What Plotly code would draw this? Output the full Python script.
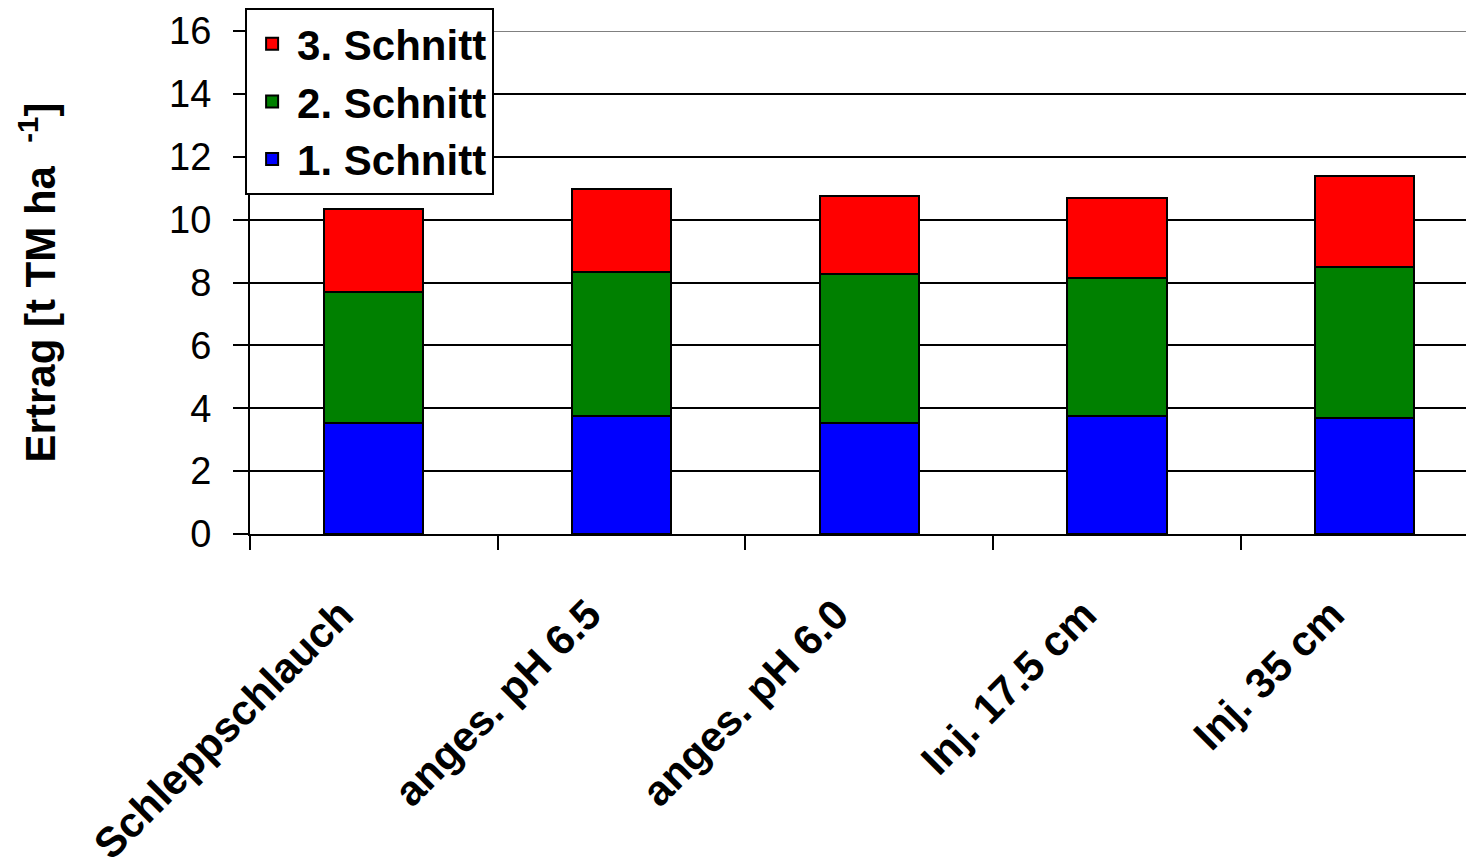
import plotly.graph_objects as go

categories = ["Schleppschlauch", "anges. pH 6.5", "anges. pH 6.0", "Inj. 17.5 cm", "Inj. 35 cm"]
schnitt1 = [3.54, 3.75, 3.54, 3.75, 3.68]
schnitt2 = [4.17, 4.59, 4.73, 4.38, 4.80]
schnitt3 = [2.62, 2.62, 2.49, 2.56, 2.92]
series_names = ["1. Schnitt", "2. Schnitt", "3. Schnitt"]
series_colors = ["#0000FF", "#008000", "#FF0000"]
legend_ranks = [3, 2, 1]
y_ticks = [0, 2, 4, 6, 8, 10, 12, 14, 16]

FONT = "Liberation Sans, Arial, sans-serif"
NBSP = "\u00a0"

fig = go.Figure()
for name, vals, col, rank in zip(series_names, [schnitt1, schnitt2, schnitt3], series_colors, legend_ranks):
    fig.add_trace(go.Bar(
        x=categories, y=vals, name=name, legendgroup=name, legendrank=rank,
        marker=dict(color=col, line=dict(color="black", width=2)),
        width=0.4,
    ))

# top border line of the value axis (grey in the original)
fig.add_hline(y=max(y_ticks), line=dict(color="#808080", width=2), layer="below")

fig.update_layout(
    width=1466, height=860,
    barmode="stack",
    paper_bgcolor="white", plot_bgcolor="white",
    margin=dict(l=242, r=0, t=23, b=334, autoexpand=False),
    font=dict(family=FONT, color="black"),
    showlegend=True,
    legend=dict(
        traceorder="grouped",
        tracegroupgap=0,
        x=-0.004, xanchor="left", y=1.0457, yanchor="top",
        bgcolor="white", bordercolor="black", borderwidth=2,
        font=dict(family=FONT, size=42, color="black", weight="bold"),
        itemwidth=40,
    ),
    xaxis=dict(
        type="category",
        range=[-0.5, 4.441],
        showgrid=False,
        showline=True, linecolor="black", linewidth=2,
        ticks="outside", tickson="boundaries", ticklen=14, tickwidth=2, tickcolor="black",
        tickangle=-45,
        tickvals=categories,
        ticktext=[c + NBSP * 4 for c in categories],
        tickfont=dict(family=FONT, size=42, color="black", weight="bold"),
        ticklabelstandoff=4,
    ),
    yaxis=dict(
        range=[0, 16],
        tickvals=y_ticks,
        showgrid=True, gridcolor="black", gridwidth=1.5,
        showline=True, linecolor="black", linewidth=2,
        ticks="outside", ticklen=15, tickwidth=2, tickcolor="black",
        tickfont=dict(family=FONT, size=38, color="black"),
        ticklabelstandoff=14,
        zeroline=False,
        title=dict(
            text="Ertrag [t TM ha" + NBSP * 2 + "<sup>-1</sup>]",
            font=dict(family=FONT, size=42, color="black", weight="bold"),
            standoff=100,
        ),
    ),
)

fig.write_html("out.html")
